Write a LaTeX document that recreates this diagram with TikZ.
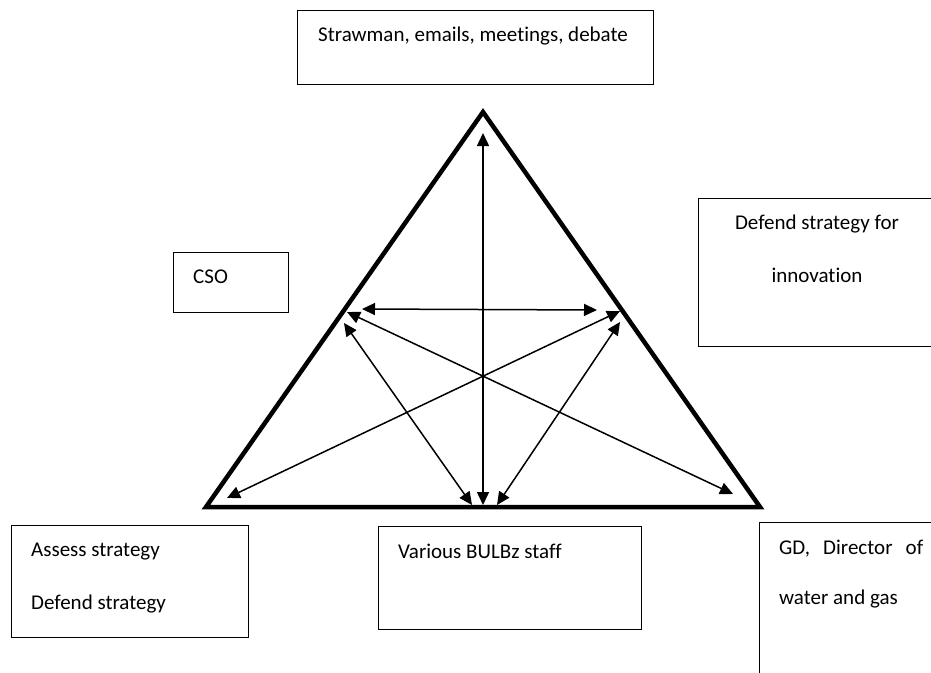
\documentclass[tikz,border=0pt]{standalone}
\usepackage{fontspec}
\setmainfont[Ligatures={NoCommon}]{Carlito}
\usetikzlibrary{arrows.meta}
\begin{document}
\begin{tikzpicture}[x=1pt,y=-1pt,
  box/.style={draw, line width=1.1pt, inner sep=0pt, anchor=north west},
  lbl/.style={inner sep=0pt, font=\fontsize{21}{25}\selectfont},
  side/.style={line width=4.5pt, line join=miter},
  link/.style={line width=1.5pt, {Triangle[length=13pt,width=12pt]}-{Triangle[length=13pt,width=12pt]}}]
\useasboundingbox (0,0) rectangle (931,672);

% text boxes
\node[box, minimum width=356pt, minimum height=74pt]  (forum)  at (297,10)  {};
\node[box, minimum width=115pt, minimum height=60pt]  (cso)    at (173,252) {};
\node[box, minimum width=250pt, minimum height=148pt] (innov)  at (698,198) {};
\node[box, minimum width=237pt, minimum height=112pt] (assess) at (11,525)  {};
\node[box, minimum width=263pt, minimum height=103pt] (staff)  at (378,526) {};
\node[box, minimum width=200pt, minimum height=170pt] (gd)     at (759,522) {};

% labels
\node[lbl, anchor=base west] (forumtxt)   at (318,41)  {Strawman, emails, meetings, debate};
\node[lbl, anchor=base west] (csotxt)     at (193,283) {CSO};
\node[lbl, anchor=base]      (innovtxt)   at (817,229) {Defend strategy for};
\node[lbl, anchor=base]      (innovtxtb)  at (817,282) {innovation};
\node[lbl, anchor=base west] (assesstxt)  at (31,556)  {Assess strategy};
\node[lbl, anchor=base west] (assesstxtb) at (31,609)  {Defend strategy};
\node[lbl, anchor=base west] (stafftxt)   at (398,558) {Various BULBz staff};
\node[lbl, anchor=base west] (gdtxt)      at (779,554) {\makebox[144pt][s]{GD,\ Director\ of}};
\node[lbl, anchor=base west] (gdtxtb)     at (779,604) {water and gas};

% the triangle
\coordinate (apex) at (483,112);
\coordinate (cornerR) at (760,507);
\coordinate (cornerL) at (206,507);
\draw[side] (apex) -- (cornerR) -- (cornerL) -- cycle;

% arrow ends
\coordinate (top)   at (483,133);
\coordinate (bot)   at (483,505);
\coordinate (hl)    at (362,309);
\coordinate (hr)    at (597,310);
\coordinate (ml)    at (347,312);
\coordinate (mlb)   at (344,323);
\coordinate (mr)    at (620,311);
\coordinate (mrb)   at (620,322);
\coordinate (bl)    at (227,498);
\coordinate (br)    at (733,494);
\coordinate (bml)   at (472,505);
\coordinate (bmr)   at (497,505);

% connectors
\draw[link] (top) -- (bot);
\draw[link] (hl) -- (hr);
\draw[link] (ml) -- (br);
\draw[link] (mr) -- (bl);
\draw[link] (mlb) -- (bml);
\draw[link] (mrb) -- (bmr);
\end{tikzpicture}
\end{document}
